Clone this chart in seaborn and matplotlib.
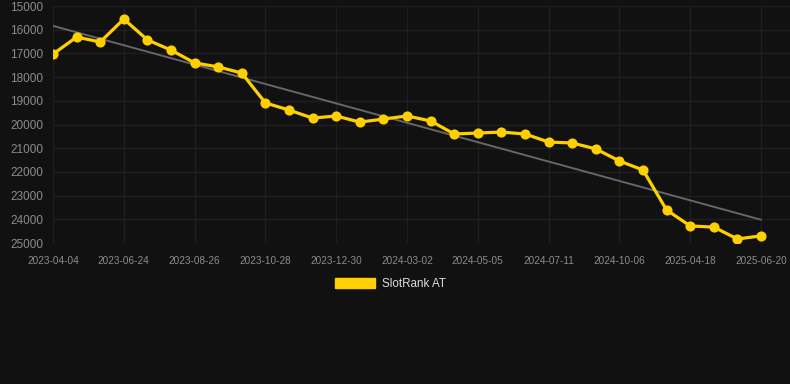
import numpy as np
import pandas as pd
import matplotlib
matplotlib.use("Agg")
import matplotlib.pyplot as plt
from matplotlib.patches import Patch
import seaborn as sns

dates = ["2023-04-04", "2023-04-30", "2023-05-28", "2023-06-24", "2023-07-15", "2023-08-05",
         "2023-08-26", "2023-09-16", "2023-10-07", "2023-10-28", "2023-11-18", "2023-12-09",
         "2023-12-30", "2024-01-20", "2024-02-10", "2024-03-02", "2024-03-23", "2024-04-14",
         "2024-05-05", "2024-05-27", "2024-06-19", "2024-07-11", "2024-08-09", "2024-09-07",
         "2024-10-06", "2024-12-09", "2025-02-12", "2025-04-18", "2025-05-09", "2025-05-30",
         "2025-06-20"]
rank = [17030, 16310, 16520, 15550, 16430, 16860, 17400, 17570, 17830, 19090,
        19390, 19730, 19640, 19900, 19770, 19640, 19850, 20400, 20360, 20320,
        20400, 20740, 20780, 21030, 21540, 21920, 23610, 24280, 24330, 24830,
        24700]
series_name = "SlotRank AT"
y_ticks = list(range(15000, 25001, 1000))

BG = "#111111"
GRID = "#1f1f1f"
YELLOW = "#FFD000"

sns.set_style("dark", {"axes.facecolor": BG, "figure.facecolor": BG})
plt.rcParams["font.family"] = ["Liberation Sans", "DejaVu Sans"]

df = pd.DataFrame({"idx": np.arange(len(dates)), "rank": rank, "date": dates})

fig = plt.figure(figsize=(7.9, 3.84), dpi=100)
fig.patch.set_facecolor(BG)
ax = fig.add_axes([53 / 790, 1 - 243 / 384, 1 - 53 / 790, (243 - 6) / 384])
ax.set_facecolor(BG)

# trend line (least squares)
coef = np.polyfit(df["idx"], df["rank"], 1)
trend = np.polyval(coef, df["idx"])
sns.lineplot(x=df["idx"], y=trend, ax=ax, color="#666666", linewidth=1.4, zorder=2)

sns.lineplot(data=df, x="idx", y="rank", ax=ax, color=YELLOW, linewidth=2.3,
             marker="o", markersize=7.3, markeredgewidth=0, zorder=3)

ax.set_xlim(0, 30 + 29 / 23.6)
ax.set_ylim(25000, 15000)
ax.set_yticks(y_ticks)
ax.set_yticklabels([str(v) for v in y_ticks])
ax.set_xticks(df["idx"][::3])
ax.set_xticklabels(df["date"][::3])
ax.grid(True, color=GRID, linewidth=1)
ax.tick_params(axis="y", length=0, pad=7, labelsize=8.5, labelcolor="#8c8c8c")
ax.tick_params(axis="x", length=6, color=GRID, pad=3, labelsize=7.2, labelcolor="#8c8c8c")
ax.set_xlabel("")
ax.set_ylabel("")
for s in ax.spines.values():
    s.set_visible(False)

handles = [Patch(facecolor=YELLOW, edgecolor=YELLOW, label=series_name)]
fig.legend(handles=handles, loc="center", bbox_to_anchor=(0.494, 1 - 284 / 384),
           frameon=False, handlelength=3.4, handleheight=1.0, handletextpad=0.6,
           prop={"size": 8.4}, labelcolor="#dddddd")

fig.savefig("out.png", dpi=100, facecolor=BG)
